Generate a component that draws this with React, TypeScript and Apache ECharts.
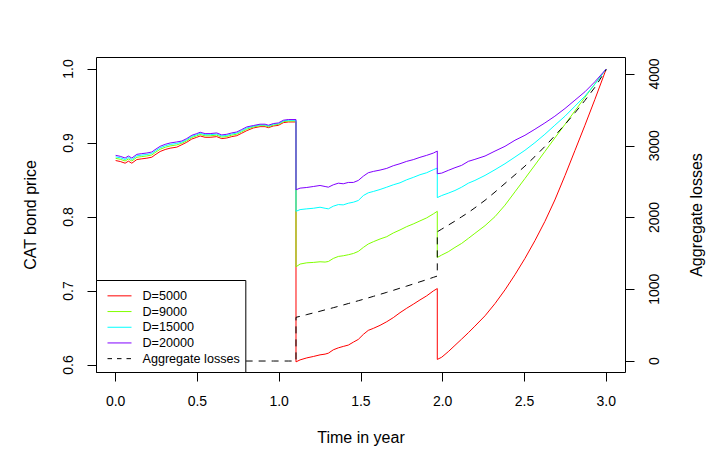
import React, { useEffect, useRef } from "react";
import * as echarts from "echarts";

// time in years (jump times appear twice: before / after the jump)
const times = [
  0, 0.028, 0.058, 0.078, 0.099, 0.13, 0.16, 0.191, 0.221, 0.241, 0.272, 0.303, 0.333, 0.374, 0.405, 0.435,
  0.466, 0.496, 0.517, 0.547, 0.578, 0.618, 0.649, 0.68, 0.71, 0.741, 0.771, 0.802, 0.842, 0.883, 0.914, 0.934,
  0.965, 0.995, 1.026, 1.056, 1.103,
  1.103, 1.128, 1.169, 1.209, 1.25, 1.281, 1.301, 1.331, 1.362, 1.392, 1.423, 1.454, 1.484, 1.515, 1.545, 1.576,
  1.617, 1.658, 1.698, 1.739, 1.78, 1.82, 1.861, 1.902, 1.943, 1.967,
  1.967, 1.994, 2.034, 2.075, 2.116, 2.157, 2.197, 2.259, 2.32, 2.381, 2.442, 2.503, 2.564, 2.625, 2.686, 2.748,
  2.809, 2.87, 2.931, 3.0,
];

const priceD5000 = [
  0.8763, 0.875, 0.8727, 0.8754, 0.8727, 0.8777, 0.8786, 0.8795, 0.8808, 0.884, 0.8885, 0.8912, 0.893, 0.8944,
  0.8977, 0.901, 0.9054, 0.9077, 0.9095, 0.9077, 0.9077, 0.9086, 0.9059, 0.9068, 0.9086, 0.9099, 0.9132, 0.9167,
  0.9203, 0.9221, 0.9221, 0.9207, 0.923, 0.9238, 0.9275, 0.9284, 0.9284,
  0.6042, 0.6069, 0.6096, 0.6115, 0.6137, 0.6147, 0.616, 0.6205, 0.6232, 0.6251, 0.6269, 0.6309, 0.6346, 0.6414,
  0.6468, 0.6495, 0.6536, 0.6585, 0.664, 0.6707, 0.6767, 0.6821, 0.6879, 0.6934, 0.7001, 0.7033,
  0.6075, 0.6105, 0.618, 0.6265, 0.635, 0.6436, 0.6525, 0.6665, 0.683, 0.7015, 0.722, 0.744, 0.768, 0.794, 0.823,
  0.856, 0.89, 0.924, 0.959, 1.0,
];

const priceD9000 = [
  0.8793, 0.878, 0.8757, 0.8784, 0.8757, 0.8807, 0.8816, 0.8825, 0.8838, 0.887, 0.8915, 0.8942, 0.896, 0.8974,
  0.8997, 0.903, 0.9074, 0.9097, 0.9115, 0.9097, 0.9097, 0.9106, 0.9079, 0.9088, 0.9106, 0.9119, 0.9152, 0.9187,
  0.9216, 0.9234, 0.9234, 0.922, 0.9243, 0.9251, 0.9288, 0.9297, 0.9297,
  0.7327, 0.7364, 0.7381, 0.7386, 0.7395, 0.7391, 0.7399, 0.744, 0.7467, 0.7476, 0.749, 0.7507, 0.7535, 0.7589,
  0.7635, 0.7666, 0.7703, 0.7734, 0.7784, 0.7825, 0.787, 0.7906, 0.7947, 0.7988, 0.8042, 0.8077,
  0.7453, 0.7486, 0.753, 0.7589, 0.7643, 0.7711, 0.7779, 0.7883, 0.8005, 0.816, 0.834, 0.852, 0.8702, 0.8885,
  0.9068, 0.9252, 0.9435, 0.9618, 0.98, 1.0,
];

const priceD15000 = [
  0.8813, 0.88, 0.8777, 0.8804, 0.8777, 0.8827, 0.8836, 0.8845, 0.8858, 0.889, 0.8935, 0.8962, 0.898, 0.8994,
  0.9012, 0.9045, 0.9089, 0.9112, 0.913, 0.9112, 0.9112, 0.9121, 0.9094, 0.9103, 0.9121, 0.9134, 0.9167, 0.9202,
  0.9226, 0.9244, 0.9244, 0.923, 0.9253, 0.9261, 0.9298, 0.9307, 0.9307,
  0.8077, 0.81, 0.811, 0.8118, 0.8132, 0.8118, 0.811, 0.8146, 0.8168, 0.8164, 0.8186, 0.82, 0.8223, 0.829, 0.8327,
  0.8345, 0.8372, 0.8403, 0.8435, 0.8462, 0.8503, 0.8535, 0.8571, 0.8598, 0.8639, 0.8661,
  0.8262, 0.829, 0.8322, 0.8358, 0.8403, 0.8457, 0.8494, 0.8562, 0.8639, 0.872, 0.881, 0.8901, 0.9005, 0.9118,
  0.924, 0.9362, 0.9498, 0.9634, 0.9796, 1.0,
];

const priceD20000 = [
  0.8833, 0.882, 0.8797, 0.8824, 0.8797, 0.8847, 0.8856, 0.8865, 0.8878, 0.891, 0.8955, 0.8982, 0.9, 0.9014,
  0.9027, 0.906, 0.9104, 0.9127, 0.9145, 0.9127, 0.9127, 0.9136, 0.9109, 0.9118, 0.9136, 0.9149, 0.9182, 0.9217,
  0.9236, 0.9254, 0.9254, 0.924, 0.9263, 0.9271, 0.9308, 0.9317, 0.9317,
  0.8368, 0.839, 0.8399, 0.8412, 0.8426, 0.8412, 0.8403, 0.8435, 0.8457, 0.8449, 0.8467, 0.8467, 0.8494, 0.8552,
  0.8598, 0.8616, 0.8634, 0.8657, 0.8693, 0.872, 0.8752, 0.8775, 0.8806, 0.8833, 0.8864, 0.8891,
  0.8585, 0.8593, 0.863, 0.8666, 0.8698, 0.8752, 0.8779, 0.8824, 0.8891, 0.8955, 0.9037, 0.9104, 0.9186, 0.9271,
  0.9362, 0.9466, 0.9579, 0.9692, 0.9828, 1.0,
];

const aggregateLosses = [
  0, 0, 0, 0, 0, 0, 0, 0, 0, 0, 0, 0, 0, 0, 0, 0, 0, 0, 0, 0, 0, 0, 0, 0, 0, 0, 0, 0, 0, 0, 0, 0, 0, 0, 0, 0, 0,
  609, 623, 647, 670, 694, 713, 725, 743, 762, 781, 801, 821, 840, 860, 880, 901, 929, 957, 985, 1015, 1044, 1073,
  1104, 1134, 1166, 1184,
  1801, 1838, 1893, 1950, 2010, 2070, 2135, 2240, 2355, 2475, 2595, 2716, 2850, 2990, 3140, 3296, 3460, 3632,
  3815, 4060,
];

const seriesNames = ["D=5000", "D=9000", "D=15000", "D=20000", "Aggregate losses"];
const seriesColors = ["#FF0000", "#80FF00", "#00FFFF", "#8000FF", "#000000"];
const xTicks = [0, 0.5, 1, 1.5, 2, 2.5, 3];
const priceTicks = [0.6, 0.7, 0.8, 0.9, 1.0];
const lossTicks = [0, 1000, 2000, 3000, 4000];

const FONT = "'Liberation Sans', Arial, Helvetica, sans-serif";

function pairs(values: number[]) {
  return times.map((t, i) => [t, values[i]]);
}

export default function App() {
  const ref = useRef<HTMLDivElement>(null);

  useEffect(() => {
    if (!ref.current) return;
    const chart = echarts.init(ref.current, null, { renderer: "svg" });
    const priceSets = [priceD5000, priceD9000, priceD15000, priceD20000];
    const tickStyle = { show: true, length: 9, lineStyle: { color: "#000", width: 1 } };
    const labelBase = { color: "#000", fontSize: 14, fontFamily: FONT };
    const nameStyle = { color: "#000", fontSize: 16, fontFamily: FONT };

    const series: any[] = priceSets.map((vals, i) => ({
      name: seriesNames[i],
      type: "line",
      data: pairs(vals),
      yAxisIndex: 0,
      symbol: "none",
      showSymbol: false,
      silent: true,
      lineStyle: { color: seriesColors[i], width: 1 },
      itemStyle: { color: seriesColors[i] },
      z: 2,
    }));
    series.push({
      name: seriesNames[4],
      type: "line",
      data: pairs(aggregateLosses),
      yAxisIndex: 1,
      symbol: "none",
      showSymbol: false,
      silent: true,
      lineStyle: { color: "#000", width: 1, type: [7, 6] },
      itemStyle: { color: "#000" },
      z: 2,
    });

    const hiddenSymbol = { opacity: 0, color: "rgba(0,0,0,0)", borderWidth: 0 };
    const legendData = seriesNames.map((name, i) => ({
      name,
      itemStyle: hiddenSymbol,
      lineStyle:
        i === 4
          ? { color: "#000", width: 1, type: [4.5, 5], opacity: 1 }
          : { color: seriesColors[i], width: 1, type: "solid", opacity: 1 },
    }));

    chart.setOption({
      animation: false,
      backgroundColor: "#fff",
      grid: {
        left: 96.5,
        top: 57.5,
        width: 529,
        height: 315,
        show: true,
        borderColor: "#000",
        borderWidth: 1,
        backgroundColor: "transparent",
      },
      legend: {
        orient: "vertical",
        left: 96.5,
        top: 280.5,
        z: 10,
        data: legendData,
        selectedMode: false,
        backgroundColor: "#fff",
        borderColor: "#000",
        borderWidth: 1,
        borderRadius: 0,
        padding: [7.5, 6, 6, 10.5],
        itemGap: 0,
        itemWidth: 24,
        itemHeight: 10,
        itemStyle: hiddenSymbol,
        textStyle: {
          color: "#000",
          fontSize: 12.6,
          fontFamily: FONT,
          lineHeight: 15.7,
          padding: [0, 0, 0, 6],
        },
      },
      xAxis: {
        type: "value",
        min: -0.117,
        max: 3.118,
        axisLine: { show: false, onZero: false },
        splitLine: { show: false },
        axisTick: { ...tickStyle, customValues: xTicks },
        axisLabel: {
          ...labelBase,
          customValues: xTicks,
          margin: 21,
          formatter: (v: number) => v.toFixed(1),
        },
        name: "Time in year",
        nameLocation: "middle",
        nameGap: 57,
        nameTextStyle: nameStyle,
      },
      yAxis: [
        {
          type: "value",
          position: "left",
          min: 0.58986,
          max: 1.01554,
          axisLine: { show: false, onZero: false },
          splitLine: { show: false },
          axisTick: { ...tickStyle, customValues: priceTicks },
          axisLabel: {
            ...labelBase,
            customValues: priceTicks,
            rotate: 90,
            margin: 22,
            formatter: (v: number) => v.toFixed(1),
          },
          name: "CAT bond price",
          nameLocation: "middle",
          nameGap: 58,
          nameTextStyle: nameStyle,
        },
        {
          type: "value",
          position: "right",
          min: -160,
          max: 4230,
          axisLine: { show: false, onZero: false },
          splitLine: { show: false },
          axisTick: { ...tickStyle, customValues: lossTicks },
          axisLabel: {
            ...labelBase,
            customValues: lossTicks,
            rotate: 90,
            margin: 21,
            formatter: (v: number) => String(Math.round(v)),
          },
          name: "Aggregate losses",
          nameLocation: "middle",
          nameGap: 63,
          nameTextStyle: nameStyle,
        },
      ],
      series,
    });
    return () => chart.dispose();
  }, []);

  return (
    <div
      ref={ref}
      style={{ position: "fixed", left: 0, top: 0, width: 722, height: 469, background: "#fff" }}
    />
  );
}
